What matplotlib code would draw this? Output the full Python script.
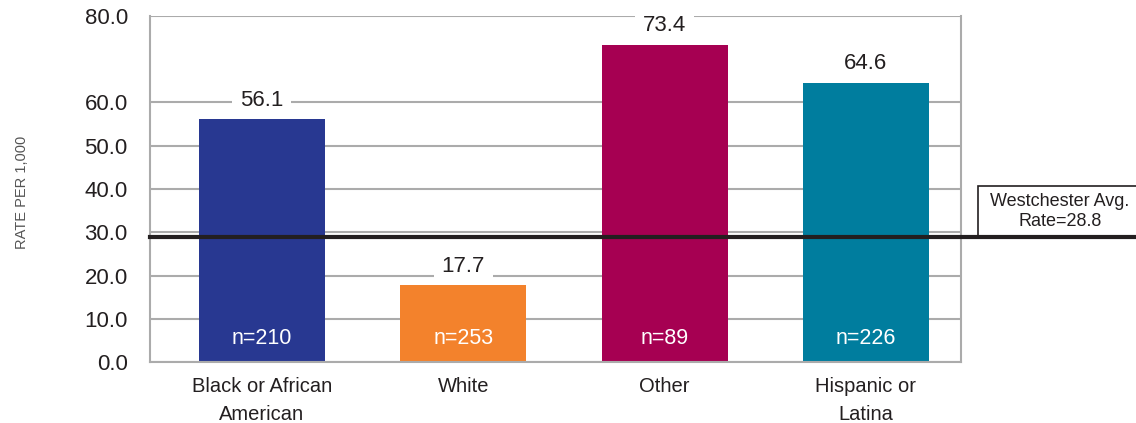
import matplotlib.pyplot as plt
import matplotlib.transforms as mtransforms
from matplotlib.patches import Rectangle

categories = ["Black or African\nAmerican", "White", "Other", "Hispanic or\nLatina"]
rates = [56.1, 17.7, 73.4, 64.6]
counts = ["n=210", "n=253", "n=89", "n=226"]
bar_colors = ["#283891", "#f3822c", "#a60052", "#007d9e"]
county_avg = 28.8
y_ticks = [0, 10, 20, 30, 40, 50, 60, 80]

plt.rcParams["font.family"] = ["Liberation Sans", "DejaVu Sans"]
text_color = "#231f20"
grid_color = "#ababab"

fig = plt.figure(figsize=(11.36, 4.23), dpi=100)
ax = fig.add_axes([150 / 1136, 61 / 423, 811 / 1136, 346 / 423])

x = list(range(len(categories)))
ax.bar(x, rates, width=0.626, color=bar_colors, zorder=2)

ax.set_xlim(-0.556, 3.472)
ax.set_ylim(0, 80)
ax.set_yticks(y_ticks)
ax.set_yticklabels([f"{v:.1f}" for v in y_ticks])
ax.set_xticks(x)
ax.set_xticklabels(categories, linespacing=1.55)
ax.tick_params(axis="y", length=0, pad=16, labelsize=16, labelcolor=text_color)
ax.tick_params(axis="x", length=0, pad=11, labelsize=14.5, labelcolor=text_color)
ax.yaxis.grid(True, color=grid_color, lw=1.5, zorder=0)
for side in ["left", "right", "bottom", "top"]:
    ax.spines[side].set_color(grid_color)
    ax.spines[side].set_linewidth(1.5)
ax.spines["top"].set_visible(False)

# rate labels above each bar, white box breaks the gridline behind it
for xi, r in zip(x, rates):
    ax.annotate(f"{r:.1f}", (xi, r), xytext=(0, 6), textcoords="offset points",
                ha="center", va="bottom", fontsize=16, color=text_color,
                bbox=dict(boxstyle="square,pad=0.35", fc="white", ec="none"), zorder=3)

# sample sizes inside the bars
for xi, n in zip(x, counts):
    ax.annotate(n, (xi, 0), xytext=(0, 17), textcoords="offset points",
                ha="center", va="center", fontsize=15.5, color="white", zorder=3)

# county average line running past the plot into the label box
trans = mtransforms.blended_transform_factory(ax.transAxes, ax.transData)
ax.plot([0, 986 / 811], [county_avg, county_avg], transform=trans,
        color=text_color, lw=3, clip_on=False, zorder=4)
ax.add_patch(Rectangle((828 / 811, county_avg), 0.3, 12.0, transform=trans,
                       fc="white", ec=text_color, lw=1.2, clip_on=False, zorder=3))
ax.text(910 / 811, county_avg + 6.0, "Westchester Avg.\nRate=28.8", transform=trans,
        ha="center", va="center", multialignment="center", fontsize=13,
        color=text_color, linespacing=1.3, zorder=5)

fig.text(22 / 1136, 1 - 192 / 423, "RATE PER 1,000", rotation=90, ha="center",
         va="center", fontsize=10.5, color="#555555")

fig.savefig("out.png", dpi=100)
